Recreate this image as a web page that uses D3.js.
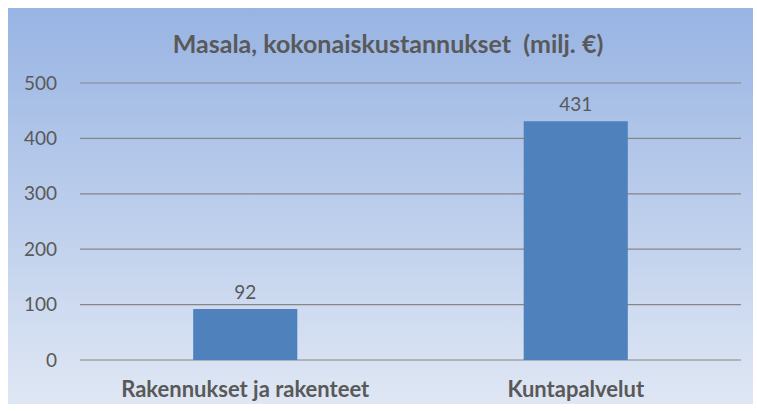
<!DOCTYPE html>
<html>
<head>
<meta charset="utf-8">
<script src="https://cdn.jsdelivr.net/npm/d3@7"></script>
<style>
  body { margin: 0; background: #fff; }
  text { font-family: Lato, "Open Sans", sans-serif; fill: #595959; }
</style>
</head>
<body>
<svg id="chart" width="757" height="411"></svg>
<script>
// chart data
var categories = ["Rakennukset ja rakenteet", "Kuntapalvelut"];
var values = [92, 431];
var yTicks = [0, 100, 200, 300, 400, 500];
var chartTitle = "Masala, kokonaiskustannukset  (milj. €)";

var svg = d3.select("#chart");

// background panel with gradient
var defs = svg.append("defs");
var grad = defs.append("linearGradient")
  .attr("id", "bg")
  .attr("x1", 0).attr("y1", 0)
  .attr("x2", 0).attr("y2", 1);
grad.append("stop").attr("offset", "0%").attr("stop-color", "#98b4e3");
grad.append("stop").attr("offset", "100%").attr("stop-color", "#dfe7f4");

svg.append("rect")
  .attr("x", 8).attr("y", 8)
  .attr("width", 745).attr("height", 396)
  .attr("fill", "url(#bg)");

var margin = {top: 83, left: 80};
var width = 661, height = 277;

var chartGroup = svg.append("g")
  .attr("transform", `translate(${margin.left}, ${margin.top})`);

// scales
var xBandScale = d3.scaleBand()
  .domain(categories)
  .range([0, width])
  .paddingInner(0.685)
  .paddingOuter(0.3425);

var yLinearScale = d3.scaleLinear()
  .domain([0, 500])
  .range([height, 0]);

// gridlines
chartGroup.selectAll(".grid")
  .data(yTicks)
  .enter()
  .append("line")
  .attr("x1", 0)
  .attr("x2", width)
  .attr("y1", d => yLinearScale(d))
  .attr("y2", d => yLinearScale(d))
  .attr("stroke", "#868686")
  .attr("stroke-width", 1.2);

// y axis labels
var leftAxis = d3.axisLeft(yLinearScale)
  .tickValues(yTicks)
  .tickSize(0)
  .tickPadding(23);

var yAxis = chartGroup.append("g").call(leftAxis);
yAxis.select(".domain").remove();
yAxis.selectAll("text")
  .style("font-size", "19px")
  .style("font-family", "Lato, sans-serif")
  .attr("fill", "#595959");

// bars
chartGroup.selectAll("rect.bar")
  .data(values)
  .enter()
  .append("rect")
  .attr("class", "bar")
  .attr("x", (d, i) => xBandScale(categories[i]))
  .attr("y", d => yLinearScale(d))
  .attr("width", xBandScale.bandwidth())
  .attr("height", d => height - yLinearScale(d))
  .attr("fill", "#4f81bd");

// value labels
chartGroup.selectAll("text.val")
  .data(values)
  .enter()
  .append("text")
  .attr("class", "val")
  .attr("x", (d, i) => xBandScale(categories[i]) + xBandScale.bandwidth() / 2)
  .attr("y", d => yLinearScale(d) - 10)
  .style("text-anchor", "middle")
  .style("font-size", "19px")
  .text(d => d);

// category labels
chartGroup.selectAll("text.cat")
  .data(categories)
  .enter()
  .append("text")
  .attr("class", "cat")
  .attr("x", d => xBandScale(d) + xBandScale.bandwidth() / 2)
  .attr("y", height + 37)
  .style("text-anchor", "middle")
  .style("font-size", "22px")
  .style("font-weight", "bold")
  .text(d => d);

// title
svg.append("text")
  .attr("x", 388)
  .attr("y", 53)
  .style("text-anchor", "middle")
  .style("font-size", "25px")
  .style("font-weight", "bold")
  .attr("xml:space", "preserve")
  .text(chartTitle);
</script>
</body>
</html>
